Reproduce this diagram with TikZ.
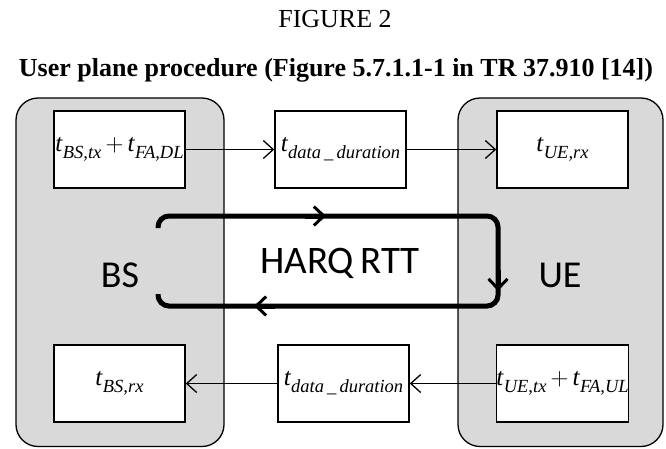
\documentclass[tikz,border=0pt]{standalone}
\usepackage{fontspec}
\setmainfont{Liberation Serif}
\newfontfamily\carlito{Carlito}
\usetikzlibrary{arrows.meta}

\newcommand{\tsym}[1]{\textit{t}\raisebox{-7pt}{\fontsize{18.5}{19}\selectfont\textit{#1}}}

\tikzset{
  station/.style={draw, line width=1.3pt, fill=gray!30, rounded corners=22pt},
  tbox/.style={draw, line width=1.5pt, fill=white, minimum width=131pt, minimum height=77pt,
    inner sep=0pt, font=\fontsize{25}{28}\selectfont},
  link/.style={line width=1.3pt, -{Straight Barb[length=10pt,width=18pt]}},
  rtt/.style={line width=5pt},
  rtttip/.style={line width=5pt, -{Straight Barb[length=10pt,width=19pt,line width=3pt]}},
  biglabel/.style={font=\carlito\fontsize{38}{42}\selectfont, anchor=base, inner sep=0pt}
}

\begin{document}
\begin{tikzpicture}[x=1pt, y=-1pt]
  \useasboundingbox (0,0) rectangle (666,448);

  \node[anchor=base, font=\fontsize{26}{30}\selectfont] (fig) at (335,27) {FIGURE 2};
  \node[anchor=base, font=\fontsize{26}{30}\selectfont\bfseries] (caption) at (336,76)
    {User plane procedure (Figure 5.7.1.1-1 in TR 37.910 [14])};

  \draw[station] (16,98) rectangle (224,446.5);
  \draw[station] (458,98) rectangle (663,446.5);

  \draw[rtt, rounded corners=11pt] (158,228) -- (158,216) -- (498,216) -- (498,306) -- (158,306) -- (158,294);
  \draw[rtttip] (305,216) -- (326,216);
  \draw[rtttip] (498,270) -- (498,291);
  \draw[rtttip] (275,306) -- (254,306);

  \node[biglabel] (bs) at (120,287) {BS};
  \node[biglabel] (ue) at (560,287) {UE};
  \node[biglabel, font=\carlito\fontsize{39}{42}\selectfont] (harq) at (340,273) {HARQ\,RTT};

  \node[tbox] (bstx) at (119.5,149.5) {\tsym{BS,tx}\,$+$\,\tsym{FA,DL}};
  \node[tbox] (dldata) at (340.5,149.5) {\tsym{data\,\_\,duration}};
  \node[tbox] (uerx) at (562.5,149.5) {\tsym{UE,rx}};

  \node[tbox] (bsrx) at (119.5,383.5) {\tsym{BS,rx}};
  \node[tbox] (uldata) at (343.5,383.5) {\tsym{data\,\_\,duration}};
  \node[tbox] (uetx) at (562.5,383.5) {\tsym{UE,tx}\,$+$\,\tsym{FA,UL}};

  \draw[link] (bstx) -- (dldata);
  \draw[link] (dldata) -- (uerx);
  \draw[link] (uetx) -- (uldata);
  \draw[link] (uldata) -- (bsrx);
\end{tikzpicture}
\end{document}
